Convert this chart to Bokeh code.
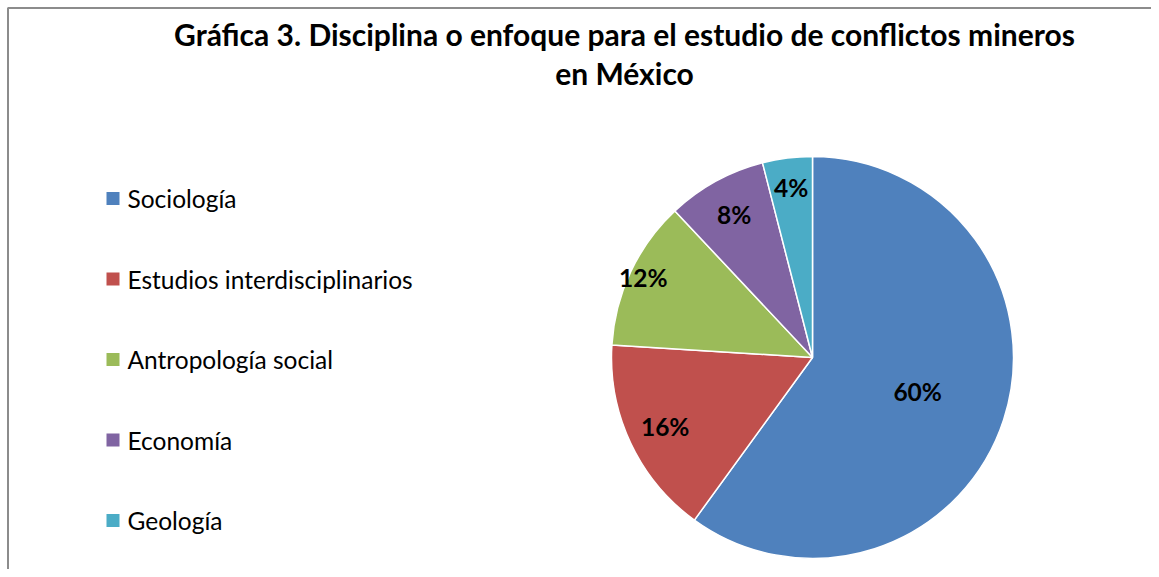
import numpy as np
from bokeh.plotting import figure
from bokeh.models import Range1d
from bokeh.core.properties import value
from bokeh.embed import file_html
from bokeh.resources import INLINE

# Data
categories = ["Sociología", "Estudios interdisciplinarios", "Antropología social", "Economía", "Geología"]
percentages = [60, 16, 12, 8, 4]
colors = ["#4F81BD", "#C0504D", "#9BBB59", "#8064A2", "#4BACC6"]
title_lines = ["Gráfica 3. Disciplina o enfoque para el estudio de conflictos mineros", "en México"]

W, H = 1151, 569
p = figure(width=W, height=H, output_backend="svg", toolbar_location=None,
           x_range=Range1d(0, W), y_range=Range1d(0, H), min_border=0)
p.axis.visible = False
p.grid.visible = False
p.outline_line_color = None
p.background_fill_color = "white"

# border (left and top)
p.line([7.5, 7.5, W], [0, H - 7.5, H - 7.5], line_color="#8c8c8c", line_width=2)

font = value("Lato")
# Title
for i, t in enumerate(title_lines):
    p.text([624], [H - 33 - 39 * i], text=[t], text_font=font, text_font_style="bold",
           text_font_size="30px", text_align="center", text_baseline="middle", text_color="black")

# Pie
cx, cy, r = 812, H - 357, 201
vals = np.array(percentages, dtype=float)
frac = vals / vals.sum()
cum = np.concatenate([[0], np.cumsum(frac)])
start = np.pi / 2 - cum[1:] * 2 * np.pi
end = np.pi / 2 - cum[:-1] * 2 * np.pi
p.wedge(x=[cx] * len(vals), y=[cy] * len(vals), radius=r, start_angle=start, end_angle=end,
        fill_color=colors, line_color="white", line_width=1.5)

# Data labels
label_r = [0.55, 0.81, 0.93, 0.81, 0.85]
mid = (cum[:-1] + cum[1:]) / 2 * 2 * np.pi
lx = [cx + np.sin(m) * r * f for m, f in zip(mid, label_r)]
ly = [cy + np.cos(m) * r * f for m, f in zip(mid, label_r)]
p.text(lx, ly, text=[f"{v}%" for v in percentages], text_font=font, text_font_style="bold",
       text_font_size="24.5px", text_align="center", text_baseline="middle", text_color="black")

# Legend
for i, (c, col) in enumerate(zip(categories, colors)):
    y = H - 198 - 80.5 * i
    p.rect([112.5], [y], width=13, height=13, fill_color=col, line_color=None)
    p.text([127], [y], text=[c], text_font=font, text_font_size="24.5px",
           text_align="left", text_baseline="middle", text_color="black")

open("out.html", "w").write(file_html(p, INLINE))
